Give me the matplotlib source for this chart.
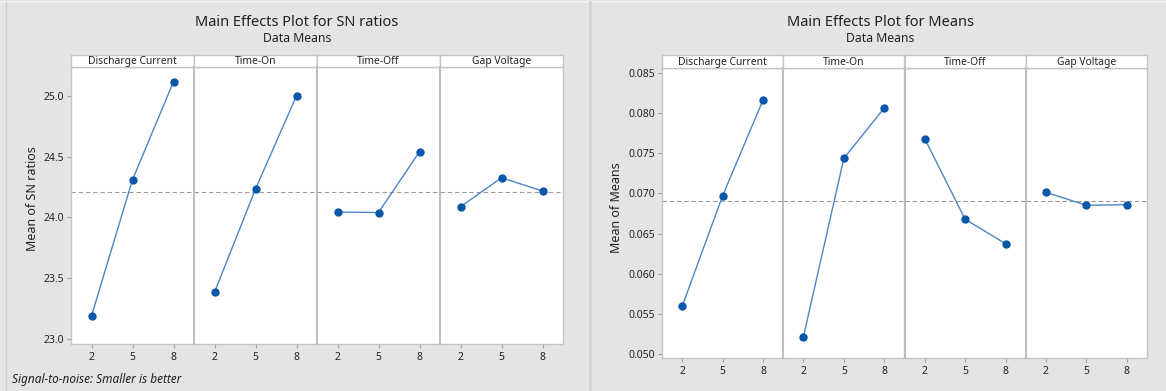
import matplotlib
matplotlib.use("Agg")
import matplotlib.pyplot as plt
from matplotlib.lines import Line2D
import numpy as np

plt.rcParams['font.family'] = ['Noto Sans', 'DejaVu Sans']

# ---- data -------------------------------------------------------------
levels = [2, 5, 8]
factors = ["Discharge Current", "Time-On", "Time-Off", "Gap Voltage"]

sn_discharge_current = [23.19, 24.31, 25.115]
sn_time_on = [23.385, 24.233, 25.00]
sn_time_off = [24.044, 24.04, 24.54]
sn_gap_voltage = [24.088, 24.326, 24.217]

mean_discharge_current = [0.05597, 0.06971, 0.08160]
mean_time_on = [0.05219, 0.07436, 0.08061]
mean_time_off = [0.07680, 0.06678, 0.06375]
mean_gap_voltage = [0.07013, 0.06852, 0.06859]

sn_ticks = [23.0, 23.5, 24.0, 24.5, 25.0]
mean_ticks = [0.050, 0.055, 0.060, 0.065, 0.070, 0.075, 0.080, 0.085]

# ---- styling ----------------------------------------------------------
W, H = 1166, 391
BG = '#e4e4e4'
FRAME = '#c4c4c4'
LINE_C = '#4a86c8'
MARK_C = '#0a56a8'
TEXT_C = '#222222'

fig = plt.figure(figsize=(W / 100, H / 100), dpi=100)
fig.patch.set_facecolor(BG)


def box(x0, y0, x1, y1):
    return [x0 / W, 1 - y1 / H, (x1 - x0) / W, (y1 - y0) / H]


def fig_line(xs, ys, **kw):
    fig.add_artist(Line2D([x / W for x in xs], [1 - y / H for y in ys],
                          transform=fig.transFigure, **kw))


# panel chrome
fig_line([0, W], [1.5, 1.5], color='#f2f2f2', lw=1.2)
fig_line([5.5, 5.5], [2, H], color='#d0d0d0', lw=1.0)
fig_line([589.5, 589.5], [2, H], color='#d3d3d3', lw=2.0)


def main_effects(x0, x1, strip_top, strip_bot, plot_bot, series, ticks,
                 ylim, fmt, title, ylabel, title_x, ylabel_x, ylabel_y):
    n = len(series)
    width = (x1 - x0) / n
    grand = np.mean([np.mean(s) for s in series])
    for i, (name, vals) in enumerate(zip(factors, series)):
        a0 = x0 + i * width
        ax = fig.add_axes(box(a0, strip_bot, a0 + width, plot_bot))
        ax.set_facecolor('white')
        ax.plot(levels, vals, color=LINE_C, lw=1.0, zorder=3)
        ax.plot(levels, vals, 'o', color=MARK_C, ms=5.0, mec=MARK_C,
                zorder=4)
        ax.axhline(grand, color='#9a9a9a', lw=0.8, ls=(0, (4, 2.5)),
                   zorder=2)
        ax.set_xlim(0.5, 9.5)
        ax.set_ylim(*ylim)
        ax.set_xticks(levels)
        ax.set_xticklabels([str(v) for v in levels])
        ax.tick_params(axis='x', length=3, width=0.8, color='#a0a0a0',
                       labelsize=7.5, labelcolor=TEXT_C, pad=3)
        if i == 0:
            ax.set_yticks(ticks)
            ax.set_yticklabels([fmt % t for t in ticks])
            ax.tick_params(axis='y', length=3, width=0.8, color='#a0a0a0',
                           labelsize=7.5, labelcolor=TEXT_C, pad=2)
        else:
            ax.tick_params(axis='y', left=False, labelleft=False)
        for s in ax.spines.values():
            s.set_color(FRAME)
            s.set_linewidth(1.0)
        if i > 0:
            ax.spines['left'].set_color('#b8b8b8')
            ax.spines['left'].set_linewidth(1.3)

        sax = fig.add_axes(box(a0, strip_top, a0 + width, strip_bot))
        sax.set_facecolor('white')
        sax.set_xticks([])
        sax.set_yticks([])
        for s in sax.spines.values():
            s.set_color(FRAME)
            s.set_linewidth(1.0)
        sax.text(0.5, 0.45, name, ha='center', va='center', fontsize=7.4,
                 fontweight='medium', color=TEXT_C, transform=sax.transAxes)

    fig.text(title_x / W, 1 - 22 / H, title, ha='center', va='center',
             fontsize=10.5, color=TEXT_C)
    fig.text(title_x / W, 1 - 38.5 / H, "Data Means", ha='center',
             va='center', fontsize=8.8, fontweight='medium', color=TEXT_C)
    fig.text(ylabel_x / W, 1 - ylabel_y / H, ylabel,
             rotation=90, ha='center', va='center', fontsize=9,
             color=TEXT_C)


main_effects(71, 563, 55, 67, 344,
             [sn_discharge_current, sn_time_on, sn_time_off, sn_gap_voltage],
             sn_ticks, (22.96, 25.236), '%.1f',
             "Main Effects Plot for SN ratios", "Mean of SN ratios",
             297, 33, 199)

main_effects(662, 1147, 55, 68, 358,
             [mean_discharge_current, mean_time_on, mean_time_off,
              mean_gap_voltage],
             mean_ticks, (0.04954, 0.08558), '%.3f',
             "Main Effects Plot for Means", "Mean of Means",
             880, 617, 207.5)

fig.text(12 / W, 1 - 380 / H, "Signal-to-noise: Smaller is better",
         ha='left', va='center', fontsize=8.5, style='italic', color=TEXT_C)

fig.savefig("out.png", dpi=100, facecolor=fig.get_facecolor())
